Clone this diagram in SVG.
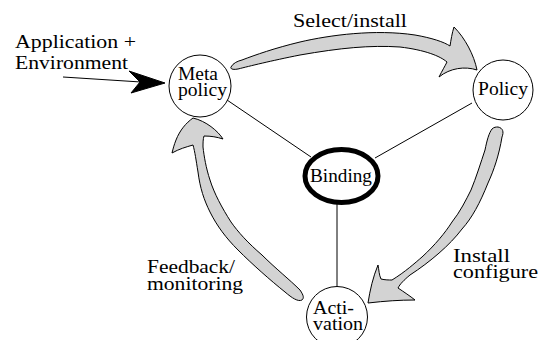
<svg xmlns="http://www.w3.org/2000/svg" width="547" height="340" viewBox="0 0 547 340">
  <style>
    .node { fill: #fff; stroke: #000; stroke-width: 1; }
    .hub { fill: #fff; stroke: #000; stroke-width: 5; }
    .link { stroke: #000; stroke-width: 1; fill: none; }
    .flow { fill: #d3d3d3; stroke: #000; stroke-width: 1; stroke-linejoin: round; }
    text { fill: #000; }
    .lbl { font-size: 19px; }
    .nl { font-size: 18px; }
  </style>
  <rect width="547" height="340" fill="#fff"/>

  <!-- connectors between nodes -->
  <g id="connectors">
    <line class="link" x1="227" y1="100" x2="311" y2="157"/>
    <line class="link" x1="472" y1="103" x2="375" y2="158"/>
    <line class="link" x1="337" y1="203" x2="337" y2="287"/>
    <!-- external input arrow -->
    <line class="link" x1="63" y1="77" x2="141" y2="82"/>
    <path d="M165,83 L129,71 L140,82 L131,93 Z" fill="#000" stroke="#000" stroke-width="1" stroke-linejoin="round"/>
  </g>

  <!-- cycle arrows -->
  <g id="flows">
    <!-- select / install -->
    <path class="flow" d="M231,67 C233,63 238,61 242,60 C255,55 275,48 300,42 C330,35 375,29 415,35 C432,38 444,42 450,46 C451,40 452,33 454,27 C465,38 474,55 477,70 C465,66 450,68 439,77 C442,71 445,66 447,62 C440,56 425,50 400,47 C370,45 340,48 300,55 C270,61 250,66 238,69 C233,70 230,69 231,67 Z"/>
    <!-- install / configure -->
    <path class="flow" d="M498,127 C503,128 504,132 502,137 C499,155 494,170 488,183 C480,203 472,218 462,229 C450,245 430,262 410,275 C404,280 400,284 398,288 C404,292 410,296 415,300 C400,300 385,301 368,303 C370,290 373,277 378,265 C379,270 379,275 381,279 C385,280 389,280 392,280 C405,272 415,263 422,257 C435,245 445,233 452,222 C460,212 466,200 471,190 C476,178 481,162 485,150 C487,140 489,133 492,129 C494,127 496,127 498,127 Z"/>
    <!-- feedback / monitoring -->
    <path class="flow" d="M302,300 C304,298 304,296 300,290 C290,280 275,268 262,255 C248,243 238,232 231,222 C222,208 214,193 210,180 C206,168 204,156 203,147 C203,143 203,139 204,136 C211,136 217,137 223,139 C218,131 206,121 193,118 C186,123 180,130 176,140 C174,145 173,149 172,153 C179,149 186,147 193,145 C195,152 196,160 198,172 C200,188 204,200 210,212 C217,226 226,238 238,250 C252,264 270,280 285,292 C292,298 298,302 302,300 Z"/>
  </g>

  <g font-family="'Liberation Serif', 'DejaVu Serif', 'Times New Roman', serif">
    <g id="meta-policy">
      <circle class="node" cx="200" cy="86" r="31"/>
      <text class="nl" x="178" y="80" textLength="40" lengthAdjust="spacingAndGlyphs">Meta</text>
      <text class="nl" x="178" y="96" textLength="49" lengthAdjust="spacingAndGlyphs">policy</text>
    </g>

    <g id="policy">
      <circle class="node" cx="503" cy="90" r="30"/>
      <text class="nl" x="478" y="95" textLength="50" lengthAdjust="spacingAndGlyphs">Policy</text>
    </g>

    <g id="binding">
      <ellipse class="hub" cx="341.5" cy="176" rx="36.5" ry="26.5"/>
      <text class="nl" x="310" y="182" textLength="62" lengthAdjust="spacingAndGlyphs">Binding</text>
    </g>

    <g id="activation">
      <circle class="node" cx="337" cy="317" r="30.5"/>
      <text class="nl" x="313" y="314" textLength="41" lengthAdjust="spacingAndGlyphs">Acti-</text>
      <text class="nl" x="313" y="330" textLength="50" lengthAdjust="spacingAndGlyphs">vation</text>
    </g>

    <g id="labels">
      <text class="lbl" x="15" y="48" textLength="121" lengthAdjust="spacingAndGlyphs">Application +</text>
      <text class="lbl" x="15" y="69" textLength="113" lengthAdjust="spacingAndGlyphs">Environment</text>
      <text class="lbl" x="293" y="27" textLength="114" lengthAdjust="spacingAndGlyphs">Select/install</text>
      <text class="lbl" x="453" y="262" textLength="57" lengthAdjust="spacingAndGlyphs">Install</text>
      <text class="lbl" x="453" y="278" textLength="85" lengthAdjust="spacingAndGlyphs">configure</text>
      <text class="lbl" x="147" y="273" textLength="88" lengthAdjust="spacingAndGlyphs">Feedback/</text>
      <text class="lbl" x="147" y="290" textLength="96" lengthAdjust="spacingAndGlyphs">monitoring</text>
    </g>
  </g>
</svg>
